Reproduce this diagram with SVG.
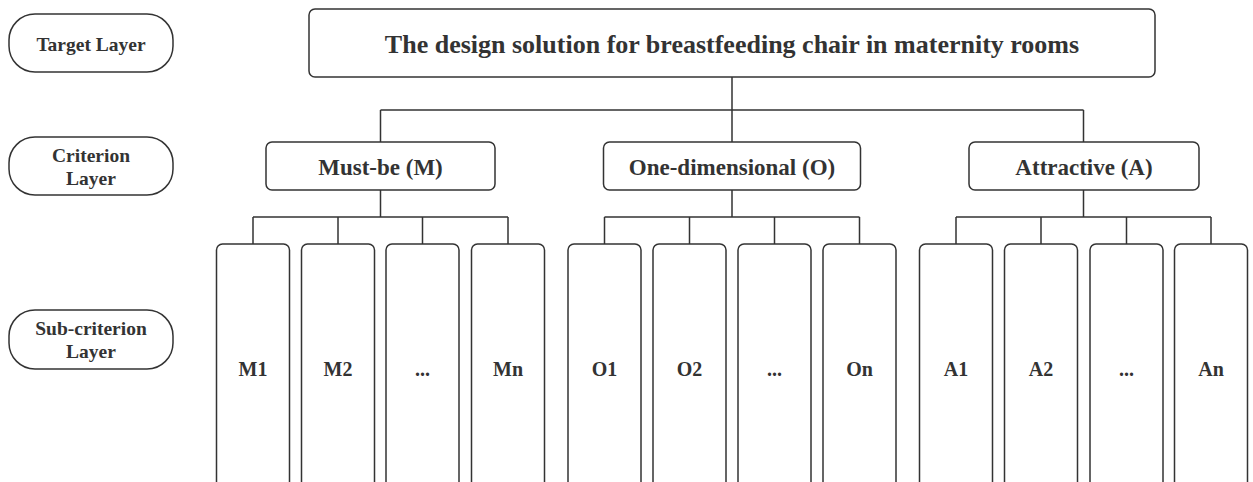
<svg xmlns="http://www.w3.org/2000/svg" width="1253" height="482" viewBox="0 0 1253 482">
<style>
.box{fill:#fff;stroke:#333;stroke-width:1.5}
.ln{fill:none;stroke:#333;stroke-width:1.5}
text{font-family:"Liberation Serif","Times New Roman",serif;font-weight:bold;fill:#333;text-anchor:middle}
.t1{font-size:26px}
.t2{font-size:23px}
.t3{font-size:19.5px}
.t4{font-size:20px}
</style>
<rect width="1253" height="482" fill="#fff"/>
<g id="connectors">
<path class="ln" d="M732 77V110M380.5 110H1083.5M380.5 110V142M732 110V142M1083.5 110V142"/>
<path class="ln" d="M380.5 190V217M253 217H508M253 217V244M338 217V244M422.5 217V244M508 217V244"/>
<path class="ln" d="M732 190V217M604.5 217H859.5M604.5 217V244M689.5 217V244M774.5 217V244M859.5 217V244"/>
<path class="ln" d="M1083.5 190V217M956 217H1211M956 217V244M1041 217V244M1126.5 217V244M1211 217V244"/>
</g>
<g id="layer-target"><rect class="box" x="9" y="14" width="164" height="58" rx="26"/><text class="t3" x="91" y="51">Target Layer</text></g>
<g id="layer-criterion"><rect class="box" x="9" y="137" width="164" height="58" rx="26"/><text class="t3" x="91" y="162">Criterion</text><text class="t3" x="91" y="185">Layer</text></g>
<g id="layer-sub"><rect class="box" x="9" y="310" width="164" height="59" rx="26"/><text class="t3" x="91" y="335">Sub-criterion</text><text class="t3" x="91" y="358">Layer</text></g>
<g id="goal"><rect class="box" x="309" y="9" width="846" height="68" rx="6"/><text class="t1" x="732" y="53">The design solution for breastfeeding chair in maternity rooms</text></g>
<g id="crit-M"><rect class="box" x="266" y="142" width="229" height="48" rx="6"/><text class="t2" x="380.5" y="175">Must-be (M)</text></g>
<g id="crit-O"><rect class="box" x="603.5" y="142" width="257" height="48" rx="6"/><text class="t2" x="732" y="175">One-dimensional (O)</text></g>
<g id="crit-A"><rect class="box" x="969" y="142" width="230" height="48" rx="6"/><text class="t2" x="1084" y="175">Attractive (A)</text></g>
<g id="M1"><rect class="box" x="216.5" y="244" width="73" height="260" rx="6"/><text class="t4" x="253" y="376">M1</text></g>
<g id="M2"><rect class="box" x="301.5" y="244" width="73" height="260" rx="6"/><text class="t4" x="338" y="376">M2</text></g>
<g id="M3"><rect class="box" x="386" y="244" width="73" height="260" rx="6"/><text class="t4" x="422.5" y="376">...</text></g>
<g id="Mn"><rect class="box" x="471.5" y="244" width="73" height="260" rx="6"/><text class="t4" x="508" y="376">Mn</text></g>
<g id="O1"><rect class="box" x="568" y="244" width="73" height="260" rx="6"/><text class="t4" x="604.5" y="376">O1</text></g>
<g id="O2"><rect class="box" x="653" y="244" width="73" height="260" rx="6"/><text class="t4" x="689.5" y="376">O2</text></g>
<g id="O3"><rect class="box" x="738" y="244" width="73" height="260" rx="6"/><text class="t4" x="774.5" y="376">...</text></g>
<g id="On"><rect class="box" x="823" y="244" width="73" height="260" rx="6"/><text class="t4" x="859.5" y="376">On</text></g>
<g id="A1"><rect class="box" x="919.5" y="244" width="73" height="260" rx="6"/><text class="t4" x="956" y="376">A1</text></g>
<g id="A2"><rect class="box" x="1004.5" y="244" width="73" height="260" rx="6"/><text class="t4" x="1041" y="376">A2</text></g>
<g id="A3"><rect class="box" x="1090" y="244" width="73" height="260" rx="6"/><text class="t4" x="1126.5" y="376">...</text></g>
<g id="An"><rect class="box" x="1174.5" y="244" width="73" height="260" rx="6"/><text class="t4" x="1211" y="376">An</text></g>
</svg>
